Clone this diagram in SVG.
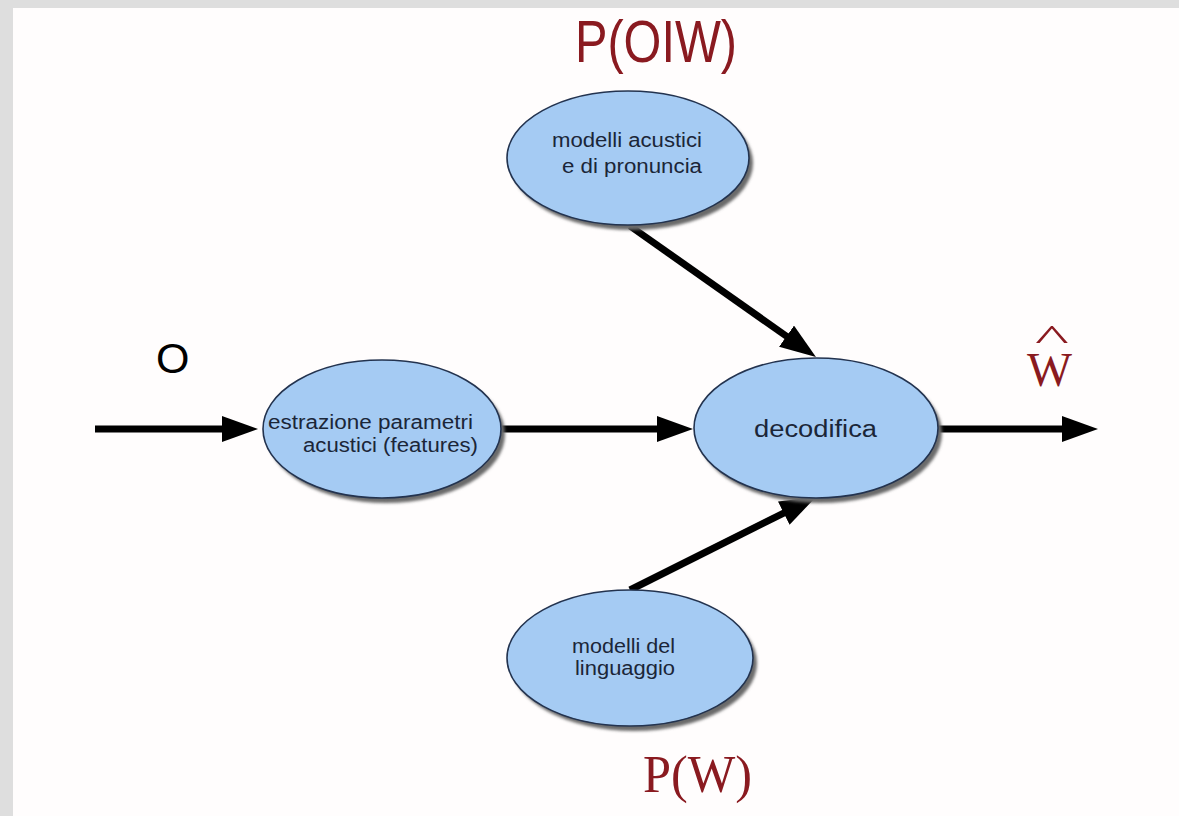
<svg xmlns="http://www.w3.org/2000/svg" width="1179" height="816" viewBox="0 0 1179 816">
<style>
.node{fill:#a5cbf3;stroke:#23334f;stroke-width:1.6}
.shadow{fill:#6a6a6a;filter:url(#blur)}
.nt{font-family:"Liberation Sans",Arial,sans-serif;fill:#1b2638;font-size:20px}
.edge{stroke:#000;stroke-width:7;fill:none;marker-end:url(#ah)}
.red{fill:#8a1a20}
</style>
<defs>
<filter id="blur" x="-10%" y="-10%" width="120%" height="120%"><feGaussianBlur stdDeviation="1.8"/></filter>
<marker id="ah" markerUnits="userSpaceOnUse" markerWidth="40" markerHeight="30" refX="10" refY="13" orient="auto"><path d="M0,0 L36,13 L0,26 z" fill="#000"/></marker>
</defs>
<rect x="0" y="0" width="1179" height="816" fill="#dedede"/>
<rect x="13" y="8" width="1166" height="808" fill="#fffdfd"/>

<g id="connectors">
<line class="edge" x1="95" y1="429" x2="232" y2="429"/>
<line class="edge" x1="502" y1="429" x2="667" y2="429"/>
<line class="edge" x1="938" y1="429" x2="1072" y2="429"/>
<line class="edge" x1="630" y1="226" x2="794.7" y2="342"/>
<line class="edge" x1="630" y1="590" x2="792.7" y2="508.6"/>
</g>

<g id="node-acustici">
<ellipse class="shadow" cx="632" cy="163" rx="121" ry="67"/>
<ellipse class="node" cx="628" cy="158" rx="121" ry="67"/>
<text class="nt" x="552" y="147" textLength="150" lengthAdjust="spacingAndGlyphs">modelli acustici</text>
<text class="nt" x="562" y="173" textLength="140" lengthAdjust="spacingAndGlyphs">e di pronuncia</text>
</g>

<g id="node-estrazione">
<ellipse class="shadow" cx="386" cy="434" rx="119" ry="69"/>
<ellipse class="node" cx="382" cy="429" rx="119" ry="69"/>
<text class="nt" x="268" y="429" textLength="205" lengthAdjust="spacingAndGlyphs">estrazione parametri</text>
<text class="nt" x="303" y="452" textLength="175" lengthAdjust="spacingAndGlyphs">acustici (features)</text>
</g>

<g id="node-decodifica">
<ellipse class="shadow" cx="820" cy="433" rx="122" ry="70"/>
<ellipse class="node" cx="816" cy="428" rx="122" ry="70"/>
<text class="nt" x="754" y="437" style="font-size:23px" textLength="123" lengthAdjust="spacingAndGlyphs">decodifica</text>
</g>

<g id="node-linguaggio">
<ellipse class="shadow" cx="634" cy="663" rx="123" ry="68"/>
<ellipse class="node" cx="630" cy="658" rx="123" ry="68"/>
<text class="nt" x="572" y="653" textLength="103" lengthAdjust="spacingAndGlyphs">modelli del</text>
<text class="nt" x="575" y="675" textLength="100" lengthAdjust="spacingAndGlyphs">linguaggio</text>
</g>

<g id="labels">
<text class="red" x="575" y="62" style="font-family:'Liberation Sans',Arial,sans-serif;font-size:60px" textLength="162" lengthAdjust="spacingAndGlyphs">P(OIW)</text>
<text x="156" y="373" style="font-family:'Liberation Sans',Arial,sans-serif;font-size:43px" fill="#000">O</text>
<text class="red" x="1027" y="386" style="font-family:'Liberation Serif','Times New Roman',serif;font-size:48px" textLength="45" lengthAdjust="spacingAndGlyphs">W</text>
<text class="red" transform="translate(1052,350) scale(2,1)" text-anchor="middle" style="font-family:'Liberation Serif','Times New Roman',serif;font-size:36px">^</text>
<text class="red" x="643" y="792" style="font-family:'Liberation Serif','Times New Roman',serif;font-size:52px" textLength="109" lengthAdjust="spacingAndGlyphs">P(W)</text>
</g>
</svg>
